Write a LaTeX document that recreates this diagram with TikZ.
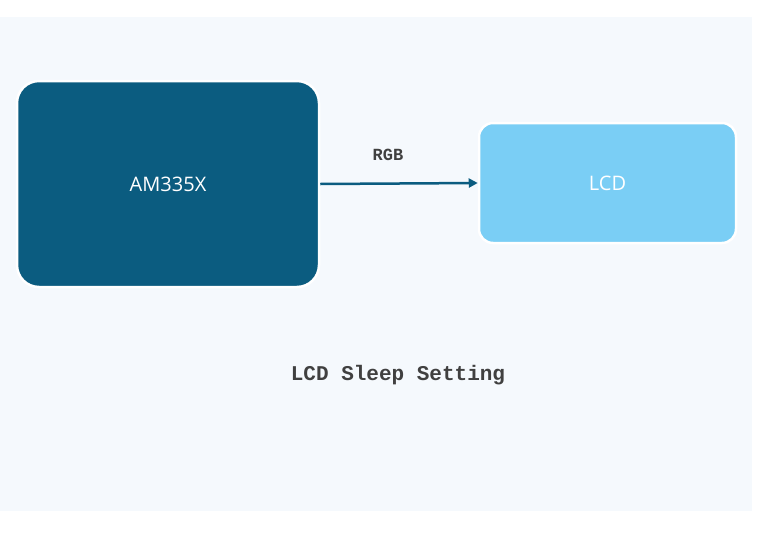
\documentclass[tikz,border=0pt]{standalone}
\usepackage{fontspec}
\setmainfont{Open Sans}
\newfontfamily\monof{Liberation Mono}
\usetikzlibrary{arrows.meta}
\definecolor{bgc}{HTML}{F5F9FD}
\definecolor{darkb}{HTML}{0B5C80}
\definecolor{lightb}{HTML}{7ACEF5}
\definecolor{txtg}{HTML}{404040}
\begin{document}
\begin{tikzpicture}[x=1pt,y=-1pt,
  box/.style={draw=white,line width=2.5pt,rounded corners=22pt,text=white,font=\fontsize{20}{24}\selectfont},
  lbl/.style={text=txtg,font=\monof\bfseries}]
\useasboundingbox (0,0) rectangle (764,536);
\fill[bgc] (0,17) rectangle (752,511);
\node[box,fill=darkb,minimum width=302pt,minimum height=206pt] (am) at (168,184) {AM335X};
\node[box,fill=lightb,minimum width=257pt,minimum height=120pt,rounded corners=14pt] (lcd) at (607.5,183) {LCD};
\draw[darkb,line width=2.5pt,-{Triangle[length=9pt,width=9pt]}] (am.east) -- (lcd.west);
\node[lbl,font=\monof\bfseries\fontsize{17}{20}\selectfont] (rgb) at (388,155) {RGB};
\node[lbl,font=\monof\bfseries\fontsize{21}{24}\selectfont] (title) at (398,375) {LCD Sleep Setting};
\end{tikzpicture}
\end{document}
